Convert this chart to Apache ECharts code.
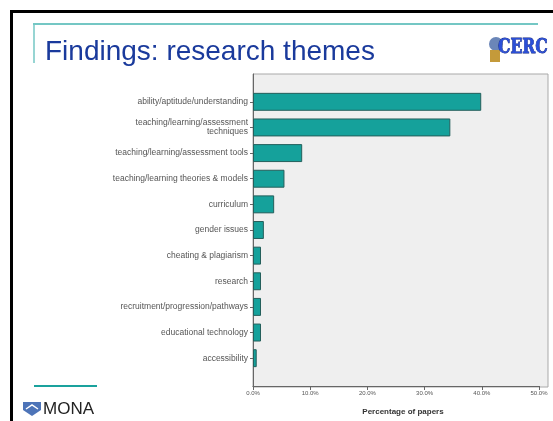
<!DOCTYPE html>
<html>
<head>
<meta charset="utf-8">
<script src="https://cdn.jsdelivr.net/npm/echarts@6/dist/echarts.min.js"></script>
<style>
html,body{margin:0;padding:0;background:#fff;}
#chart{width:553px;height:421px;}
</style>
</head>
<body>
<div id="chart"></div>
<script>
const categories = [
  'ability/aptitude/understanding',
  'teaching/learning/assessment\ntechniques',
  'teaching/learning/assessment tools',
  'teaching/learning theories & models',
  'curriculum',
  'gender issues',
  'cheating & plagiarism',
  'research',
  'recruitment/progression/pathways',
  'educational technology',
  'accessibility'
];
const percentages = [39.9, 34.5, 8.6, 5.5, 3.7, 1.9, 1.4, 1.4, 1.4, 1.4, 0.65];
const xTicks = [0, 10, 20, 30, 40, 50];
const titleText = 'Findings: research themes';
const axisTitle = 'Percentage of papers';

const chart = echarts.init(document.getElementById('chart'), null, {renderer: 'canvas'});
const fontFam = 'Arial, "Liberation Sans", sans-serif';

chart.setOption({
  backgroundColor: '#ffffff',
  animation: false,
  grid: [
    {left: 253, top: 74, right: 5, bottom: 34, show: true, backgroundColor: '#efefef', borderColor: '#a9a9a9', borderWidth: 1},
    {left: 253, top: 89, right: 14, bottom: 49}
  ],
  xAxis: [
    {gridIndex: 0, type: 'value', min: 0, max: 1, show: false},
    {
      gridIndex: 1, type: 'value', min: xTicks[0], max: xTicks[xTicks.length - 1], interval: 10, offset: 15,
      axisLine: {show: true, lineStyle: {color: '#666', width: 1}},
      axisTick: {show: true, length: 4, lineStyle: {color: '#666'}},
      splitLine: {show: false},
      axisLabel: {formatter: v => v.toFixed(1) + '%', fontSize: 6, color: '#555', margin: 4, fontFamily: fontFam},
      name: axisTitle, nameLocation: 'middle', nameGap: 22,
      nameTextStyle: {fontSize: 8, fontWeight: 'bold', color: '#333', fontFamily: fontFam, padding: [0, 0, 0, 14]}
    }
  ],
  yAxis: [
    {gridIndex: 0, type: 'value', min: 0, max: 1,
      axisLine: {show: true, lineStyle: {color: '#666', width: 1}},
      axisTick: {show: false}, axisLabel: {show: false}, splitLine: {show: false}},
    {gridIndex: 1, type: 'category', data: categories, inverse: true,
      axisLine: {show: false},
      axisTick: {show: true, alignWithLabel: true, length: 3, lineStyle: {color: '#666'}},
      axisLabel: {fontSize: 8.5, color: '#555', margin: 5, lineHeight: 9, fontFamily: fontFam}}
  ],
  series: [{
    type: 'bar', xAxisIndex: 1, yAxisIndex: 1, data: percentages,
    barCategoryGap: '30%',
    itemStyle: {color: '#15a19b', borderColor: '#245f5b', borderWidth: 1}
  }],
  graphic: [
    {type: 'rect', silent: true, shape: {x: 11.5, y: 11.5, width: 700, height: 700}, style: {fill: 'none', stroke: '#000', lineWidth: 3}},
    {type: 'line', silent: true, shape: {x1: 33, y1: 24, x2: 538, y2: 24}, style: {stroke: '#74c7c4', lineWidth: 2}},
    {type: 'line', silent: true, shape: {x1: 34, y1: 24, x2: 34, y2: 63}, style: {stroke: '#74c7c4', lineWidth: 1.5}},
    {type: 'text', silent: true, style: {text: titleText, x: 45, y: 52, textVerticalAlign: 'middle', font: '28px ' + fontFam, fill: '#1a3a9c'}},
    {type: 'line', silent: true, shape: {x1: 34, y1: 386, x2: 97, y2: 386}, style: {stroke: '#1aa29d', lineWidth: 2}},
    {type: 'polygon', silent: true, shape: {points: [[23, 402], [41, 402], [41, 410], [32, 416], [23, 410]]}, style: {fill: '#4d74b8'}},
    {type: 'polyline', silent: true, shape: {points: [[26, 409], [32, 405], [38, 409]]}, style: {stroke: '#fff', lineWidth: 1.5}},
    {type: 'text', silent: true, style: {text: 'MONA', x: 43, y: 409.5, textVerticalAlign: 'middle', font: '17px ' + fontFam, fill: '#222'}},
    {type: 'circle', silent: true, shape: {cx: 496, cy: 44, r: 7}, style: {fill: '#6b86b8'}},
    {type: 'rect', silent: true, shape: {x: 490, y: 50, width: 10, height: 12}, style: {fill: '#c49a3a'}},
    {type: 'text', silent: true, style: {text: 'CERC', x: 498, y: 48, textVerticalAlign: 'middle', font: 'bold 20px "DejaVu Serif", serif', fill: '#2b4fd8', stroke: '#10237a', lineWidth: 0.8}, scaleX: 0.78, originX: 498}
  ]
});
</script>
</body>
</html>
